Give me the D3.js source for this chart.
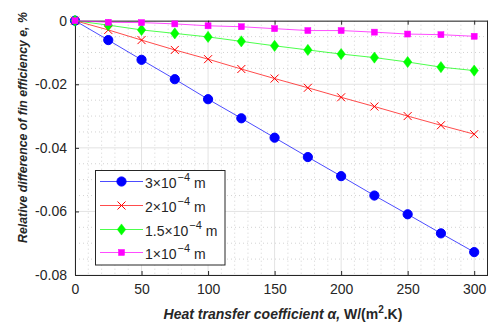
<!DOCTYPE html>
<html>
<head>
<meta charset="utf-8">
<script src="https://cdn.jsdelivr.net/npm/d3@7"></script>
<style>
  html, body { margin: 0; padding: 0; background: #fff; }
  svg { display: block; font-family: "Liberation Sans", Arial, sans-serif; }
</style>
</head>
<body>
<svg id="chart" width="488" height="324"></svg>
<script>
// Heat transfer coefficient α (W/(m²·K))
const alpha = [0, 25, 50, 75, 100, 125, 150, 175, 200, 225, 250, 275, 300];

// Relative difference of fin efficiency for each fin thickness
const diff3e4  = [0, -0.0061, -0.0123, -0.0184, -0.0247, -0.0307, -0.0368, -0.0429, -0.0489, -0.0550, -0.0609, -0.0669, -0.0728];
const diff2e4  = [0, -0.0029, -0.0061, -0.0092, -0.0121, -0.0152, -0.0182, -0.0211, -0.0241, -0.0270, -0.0300, -0.0329, -0.0357];
const diff15e4 = [0, -0.0014, -0.0029, -0.0040, -0.0051, -0.0065, -0.0079, -0.0092, -0.0105, -0.0116, -0.0130, -0.0146, -0.0157];
const diff1e4  = [0, -0.0005, -0.0006, -0.0010, -0.0016, -0.0019, -0.0025, -0.0031, -0.0031, -0.0036, -0.0042, -0.0044, -0.0049];

// Legend labels: mantissa, exponent
const seriesLabels = [["3", "4"], ["2", "4"], ["1.5", "4"], ["1", "4"]];

const xTicks = [0, 50, 100, 150, 200, 250, 300];
const yTicks = [0, -0.02, -0.04, -0.06, -0.08];

const series = [
  { values: diff3e4,  color: "#0000ff", marker: "circle",  label: seriesLabels[0] },
  { values: diff2e4,  color: "#ff0000", marker: "cross",   label: seriesLabels[1] },
  { values: diff15e4, color: "#00ff00", marker: "diamond", label: seriesLabels[2] },
  { values: diff1e4,  color: "#ff00ff", marker: "square",  label: seriesLabels[3] }
];

const svg = d3.select("#chart");
const mLeft = 75, mRight = 487.5, mTop = 20.7, mBottom = 275;
const axisColor = "#262626";

const x = d3.scaleLinear().domain([0, 310]).range([mLeft, mRight]);
const y = d3.scaleLinear().domain([-0.08, 0]).range([mBottom, mTop]);

// minor grid (dotted)
const gMinor = svg.append("g");
d3.range(10, 310, 10).filter(v => v % 50 !== 0).forEach(v => {
  gMinor.append("line").attr("x1", x(v)).attr("x2", x(v)).attr("y1", mTop).attr("y2", mBottom)
    .attr("stroke", "#c8c8c8").attr("stroke-width", 0.8).attr("stroke-dasharray", "1,3");
});
d3.range(-0.075, 0, 0.005).forEach(v => {
  if (Math.abs(Math.round(v / 0.02) * 0.02 - v) < 1e-9) return;
  gMinor.append("line").attr("x1", mLeft).attr("x2", mRight).attr("y1", y(v)).attr("y2", y(v))
    .attr("stroke", "#c8c8c8").attr("stroke-width", 0.8).attr("stroke-dasharray", "1,3");
});

// major grid
const gMajor = svg.append("g");
xTicks.forEach(v => {
  gMajor.append("line").attr("x1", x(v)).attr("x2", x(v)).attr("y1", mTop).attr("y2", mBottom)
    .attr("stroke", "#e3e3e3").attr("stroke-width", 1);
});
yTicks.forEach(v => {
  gMajor.append("line").attr("x1", mLeft).attr("x2", mRight).attr("y1", y(v)).attr("y2", y(v))
    .attr("stroke", "#e3e3e3").attr("stroke-width", 1);
});

// axes
const xAxis = d3.axisBottom(x).tickValues(xTicks).tickSizeInner(-4).tickSizeOuter(0).tickPadding(9)
  .tickFormat(d3.format("d"));
const gx = svg.append("g").attr("transform", `translate(0,${mBottom})`).call(xAxis);
const xTopAxis = d3.axisTop(x).tickValues(xTicks).tickSizeInner(-4).tickSizeOuter(0).tickFormat("");
const gxt = svg.append("g").attr("transform", `translate(0,${mTop})`).call(xTopAxis);
const yAxis = d3.axisLeft(y).tickValues(yTicks).tickSizeInner(-4).tickSizeOuter(0).tickPadding(8)
  .tickFormat(d => d === 0 ? "0" : d3.format(".2f")(d).replace("−", "-"));
const gy = svg.append("g").attr("transform", `translate(${mLeft},0)`).call(yAxis);
[gx, gxt, gy].forEach(g => {
  g.select(".domain").attr("stroke", axisColor);
  g.selectAll(".tick line").attr("stroke", axisColor);
  g.selectAll(".tick text").attr("fill", axisColor).attr("font-size", 14)
    .attr("font-family", "'Liberation Sans', Arial, sans-serif");
});
svg.append("line").attr("x1", mRight).attr("x2", mRight).attr("y1", mTop).attr("y2", mBottom)
  .attr("stroke", axisColor);

// marker drawing
function drawMarker(g, type, cx, cy, color) {
  if (type === "circle") {
    g.append("circle").attr("cx", cx).attr("cy", cy).attr("r", 4.6).attr("fill", color).attr("stroke", color);
  } else if (type === "cross") {
    const s = 4;
    g.append("path").attr("d", `M${cx - s},${cy - s}L${cx + s},${cy + s}M${cx - s},${cy + s}L${cx + s},${cy - s}`)
      .attr("stroke", color).attr("stroke-width", 1).attr("fill", "none");
  } else if (type === "diamond") {
    const w = 4.2, h = 5.6;
    g.append("path").attr("d", `M${cx},${cy - h}L${cx + w},${cy}L${cx},${cy + h}L${cx - w},${cy}Z`)
      .attr("fill", color).attr("stroke", color).attr("stroke-width", 0.5);
  } else if (type === "square") {
    const s = 3;
    g.append("rect").attr("x", cx - s).attr("y", cy - s).attr("width", 2 * s).attr("height", 2 * s)
      .attr("fill", color).attr("stroke", color).attr("stroke-width", 0.5);
  }
}

const line = d3.line().x((d, i) => x(alpha[i])).y(d => y(d));
series.forEach(s => {
  const g = svg.append("g");
  g.append("path").datum(s.values).attr("d", line).attr("fill", "none")
    .attr("stroke", s.color).attr("stroke-width", 1).attr("stroke-opacity", 0.7);
  s.values.forEach((v, i) => drawMarker(g, s.marker, x(alpha[i]), y(v), s.color));
});

// legend
const lg = svg.append("g");
lg.append("rect").attr("x", 95.5).attr("y", 170.5).attr("width", 129.5).attr("height", 94.5)
  .attr("fill", "#fff").attr("stroke", axisColor).attr("stroke-width", 1);
const rowY = [181.5, 205.5, 229.5, 252.5];
series.forEach((s, i) => {
  const yy = rowY[i];
  lg.append("line").attr("x1", 100).attr("x2", 143).attr("y1", yy).attr("y2", yy)
    .attr("stroke", s.color).attr("stroke-width", 1).attr("stroke-opacity", 0.7);
  drawMarker(lg, s.marker, 121.5, yy, s.color);
  const t = lg.append("text").attr("x", 145).attr("y", yy + 6).attr("font-size", 14).attr("fill", axisColor);
  t.append("tspan").text(s.label[0] + "×10");
  t.append("tspan").attr("dx", 1).attr("dy", -7).attr("font-size", 11).text("−" + s.label[1]);
  t.append("tspan").attr("dy", 7).text(" m");
});

// axis titles
const xt = svg.append("text").attr("x", 283).attr("y", 319).attr("text-anchor", "middle")
  .attr("font-size", 14).attr("font-weight", "bold").attr("fill", axisColor);
xt.append("tspan").attr("font-style", "italic").text("Heat transfer coefficient α, ");
xt.append("tspan").text("W/(m");
xt.append("tspan").attr("dy", -6).attr("font-size", 10).text("2");
xt.append("tspan").attr("dy", 6).text(".K)");

// y title, sized so it spans the available height beside the axis
const yt = svg.append("text").attr("transform", "translate(27,127.5) rotate(-90)").attr("text-anchor", "middle")
  .attr("font-size", 14).attr("font-weight", "bold").attr("font-style", "italic").attr("fill", axisColor)
  .text("Relative difference of fin efficiency e,  %");
const ytLen = yt.node().getComputedTextLength();
yt.attr("font-size", Math.min(14, 14 * 231 / ytLen));
</script>
</body>
</html>
